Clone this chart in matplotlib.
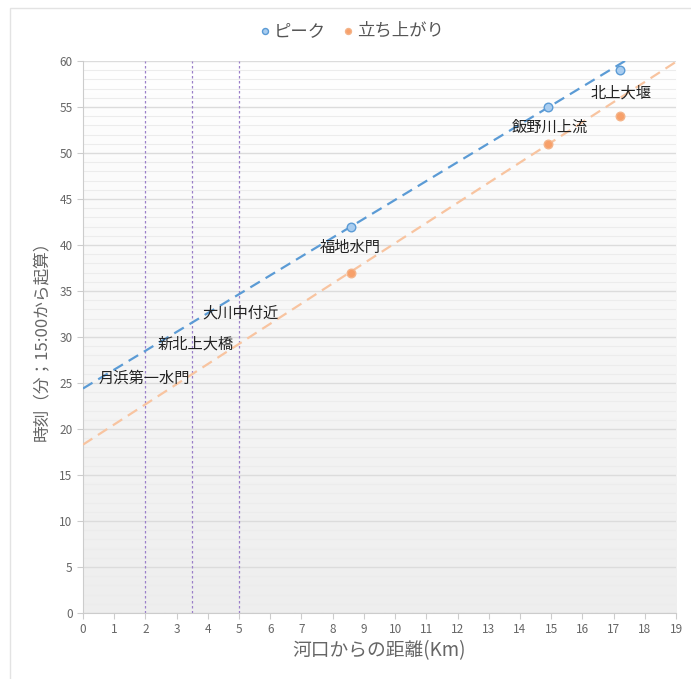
import numpy as np
import matplotlib
matplotlib.use('Agg')
import matplotlib.pyplot as plt
from matplotlib.patches import Rectangle

plt.rcParams['font.family'] = ['Noto Sans CJK JP', 'DejaVu Sans']

# distances from river mouth (km) and times (min from 15:00)
dist = [8.6, 14.9, 17.2]
peak = [42, 55, 59]
rise = [37, 51, 54]

# trend lines: (intercept, slope)
peak_trend = (24.4, 2.05)
rise_trend = (18.3, 2.19)

# observation points with no data, shown as vertical lines
marker_x = [2, 3.5, 5]

# place names and label positions
names = ['月浜第一水門', '新北上大橋', '大川中付近', '福地水門', '飯野川上流', '北上大堰']
name_x = [1.95, 3.6, 5.05, 8.55, 14.95, 17.25]
name_y = [25.5, 29.2, 32.6, 39.7, 52.8, 56.5]

blue = '#5b9bd5'
orange = '#f8c4a0'

fig = plt.figure(figsize=(6.91, 6.79), dpi=100)
ax = fig.add_axes([0.1201, 0.0972, 0.8582, 0.8130])

# outer frame
fig.patches.append(Rectangle((10 / 691, -0.01), 1.0, 1.0 - 8 / 679 + 0.01,
                             transform=fig.transFigure, fill=False,
                             edgecolor='#e3e3e3', linewidth=1))

# gradient background, white at top to light grey at bottom
grad = np.linspace(0, 1, 256).reshape(-1, 1)
ax.imshow(grad, extent=[0, 1, 0, 1], transform=ax.transAxes, aspect='auto',
          cmap=matplotlib.colors.LinearSegmentedColormap.from_list(
              'bg', ['#ffffff', '#eeeeee']),
          vmin=0, vmax=1, zorder=0)

ax.set_xlim(0, 19)
ax.set_ylim(0, 60)
ax.set_xticks(range(0, 20))
ax.set_yticks(range(0, 61, 5))
ax.set_yticks(range(0, 61, 1), minor=True)
ax.grid(axis='y', which='major', color='#dcdcdc', linewidth=1, zorder=1)
ax.grid(axis='y', which='minor', color='#ececec', linewidth=0.8, zorder=1)
ax.set_axisbelow(True)

for xv in marker_x:
    ax.axvline(xv, color='#9b7fc9', linestyle=(0, (2, 2)), linewidth=0.9, zorder=2)

xs = np.array([0, 19])
ax.plot(xs, peak_trend[0] + peak_trend[1] * xs, color=blue, linestyle=(0, (5, 3)),
        linewidth=1.6, zorder=3)
ax.plot(xs, rise_trend[0] + rise_trend[1] * xs, color=orange, linestyle=(0, (5, 3)),
        linewidth=1.6, zorder=3)

ax.scatter(dist, peak, s=38, color='#a9cdf0', edgecolor='#5b9bd5', linewidth=1,
           zorder=5, label='ピーク')
ax.scatter(dist, rise, s=38, color='#f7a06a', edgecolor='#f4b48a', linewidth=1,
           zorder=5, label='立ち上がり')

for n, x, y in zip(names, name_x, name_y):
    ax.text(x, y, n, ha='center', va='center', fontsize=11, color='#222222', zorder=6)

for s in ['top', 'right']:
    ax.spines[s].set_visible(False)
for s in ['left', 'bottom']:
    ax.spines[s].set_color('#cccccc')
ax.tick_params(axis='both', which='major', colors='#cccccc', labelcolor='#666666',
               labelsize=8.5, length=4)
ax.tick_params(axis='y', which='minor', length=0)

ax.set_xlabel('河口からの距離(Km)', fontsize=13.5, color='#666666', labelpad=3)
ax.set_ylabel('時刻（分；15:00から起算）', fontsize=12, color='#666666', labelpad=6)

ax.legend(loc='lower center', bbox_to_anchor=(0.45, 1.01), ncol=2, frameon=False,
          fontsize=12.5, labelcolor='#555555', handletextpad=0.0, columnspacing=0.8,
          handlelength=1.0, markerscale=0.7)

fig.savefig('out.png', dpi=100)
